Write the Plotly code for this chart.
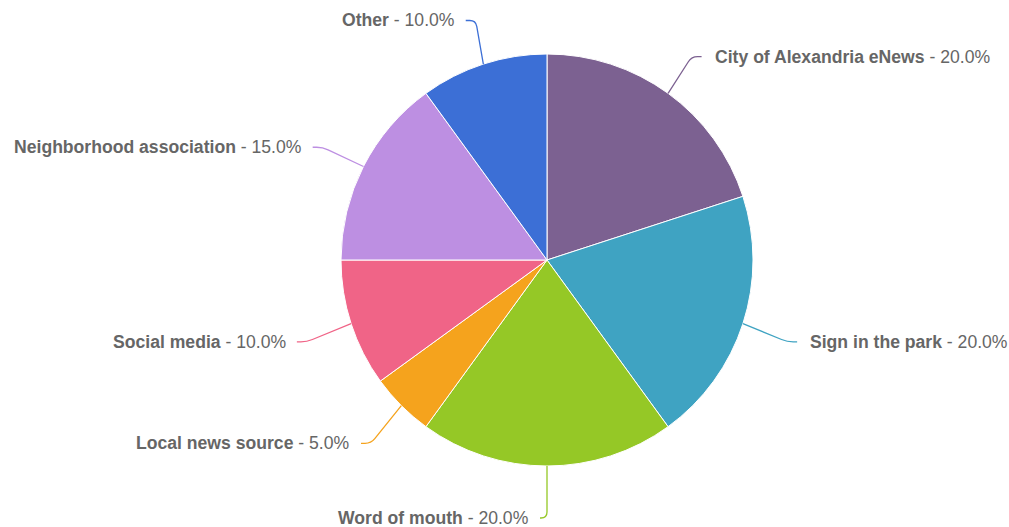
import math
import plotly.graph_objects as go

# ---- data ----
categories = ["City of Alexandria eNews", "Sign in the park", "Word of mouth",
              "Local news source", "Social media", "Neighborhood association", "Other"]
values = [20.0, 20.0, 20.0, 5.0, 10.0, 15.0, 10.0]
colors = ["#7c6191", "#3fa3c2", "#95c826", "#f5a31d", "#f06487", "#bd8fe2", "#3c6fd6"]

W, H = 1009, 527
CX, CY, R = 547, 260, 206        # pie centre / radius in pixels
RY, RX = 255, 263                # label placement radii
YOFF = 3
CROOK = 10
GAP_R, GAP_L = 11, 9
TEXT = "#666666"

fig = go.Figure()
fig.add_trace(go.Pie(
    labels=categories, values=values, sort=False, direction="clockwise",
    rotation=0, marker=dict(colors=colors, line=dict(color="white", width=1)),
    textinfo="none", hoverinfo="label+percent", showlegend=False,
    domain=dict(x=[(CX - R) / W, (CX + R) / W], y=[1 - (CY + R) / H, 1 - (CY - R) / H]),
))

total = sum(values)
cum = 0.0
shapes, annots = [], []
for name, v, col in zip(categories, values, colors):
    mid = (cum + v / 2) / total * 2 * math.pi
    cum += v
    s, c = math.sin(mid), math.cos(mid)
    side = 1 if mid < math.pi - 1e-9 else -1
    ex, ey = CX + R * s, CY - R * c
    ly = CY - RY * c + YOFF
    ax = CX + RX * s
    cx_ = ax - side * CROOK
    if side < 0:
        cx_ = min(cx_, ex)
        ax = min(ax, cx_ - 7)
    else:
        cx_ = max(cx_, ex)
        ax = max(ax, cx_ + 7)
    dx, dy = cx_ - ex, ly - ey
    L = math.hypot(dx, dy) or 1
    px, py = cx_ - dx / L * 6, ly - dy / L * 6
    qx = cx_ + side * 6
    path = f"M {ex},{ey} L {px},{py} Q {cx_},{ly} {qx},{ly} L {ax},{ly}"
    shapes.append(dict(type="path", path=path, xref="x", yref="y",
                       line=dict(color=col, width=1.3), layer="above"))
    pct = v / total * 100
    annots.append(dict(
        x=ax + (GAP_R if side > 0 else -GAP_L), y=ly, xref="x", yref="y", showarrow=False,
        xanchor="left" if side > 0 else "right", yanchor="middle",
        text=f"<b>{name}</b> - {pct:.1f}%",
        font=dict(family="Liberation Sans, Arial, sans-serif", size=17.6, color=TEXT),
    ))

fig.update_layout(
    width=W, height=H, margin=dict(l=0, r=0, t=0, b=0),
    paper_bgcolor="white", plot_bgcolor="rgba(0,0,0,0)",
    xaxis=dict(range=[0, W], visible=False, fixedrange=True),
    yaxis=dict(range=[H, 0], visible=False, fixedrange=True),
    shapes=shapes, annotations=annots,
)
fig.write_html("out.html", config={"displayModeBar": False},
               post_script="document.body.style.margin='0';")
